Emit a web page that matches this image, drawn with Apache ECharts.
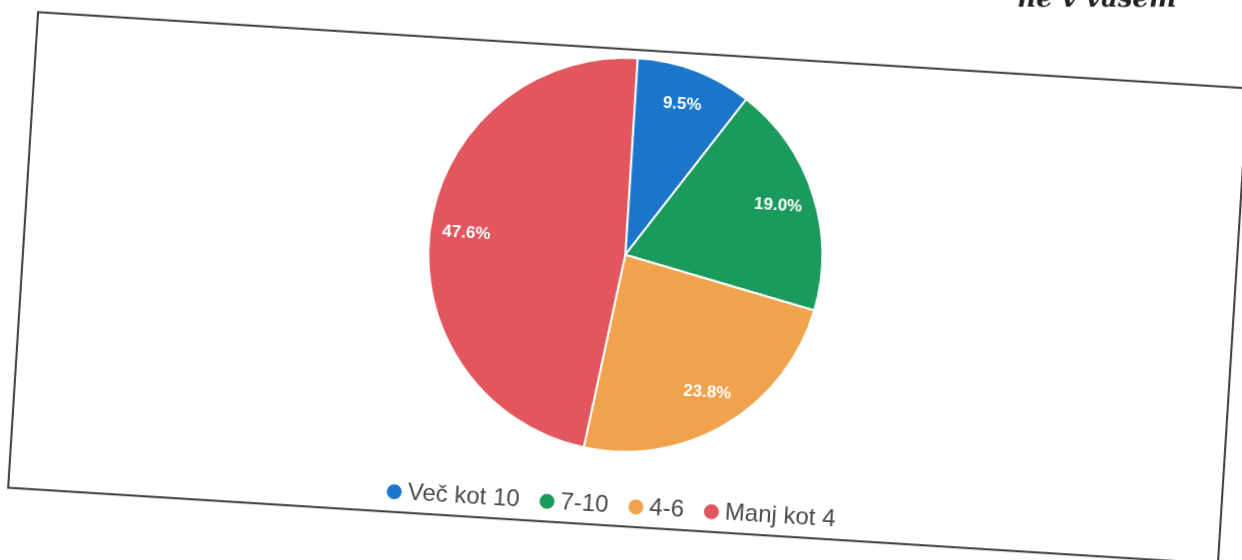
<!DOCTYPE html>
<html>
<head>
<meta charset="utf-8">
<script src="https://cdn.jsdelivr.net/npm/echarts@6/dist/echarts.min.js"></script>
<style>
  html, body { margin: 0; padding: 0; background: #fff; overflow: hidden; width: 1242px; height: 560px; }
  #main {
    position: absolute;
    left: -72.25px;
    top: -61.8px;
    width: 1400px;
    height: 700px;
    transform: rotate(3.6deg);
  }
</style>
</head>
<body>
<div id="main"></div>
<script>
var categories = ['Več kot 10', '7-10', '4-6', 'Manj kot 4'];
var values = [2, 4, 5, 10];
var colors = ['#1b76cb', '#1a9a5c', '#f1a24c', '#e2575e'];

var total = values.reduce(function (a, b) { return a + b; }, 0);

var pieData = categories.map(function (name, i) {
  return { name: name, value: values[i], itemStyle: { color: colors[i] } };
});

var labelData = categories.map(function (name, i) {
  return { name: name, value: values[i] };
});

var chartDom = document.getElementById('main');
var myChart = echarts.init(chartDom, null, { renderer: 'canvas' });

var option = {
  animation: false,
  backgroundColor: 'transparent',
  textStyle: { fontFamily: '"Liberation Sans", Arial, sans-serif' },
  graphic: [
    {
      type: 'rect',
      shape: { x: 93.9, y: 111.65, width: 1212.2, height: 476.7 },
      style: { fill: '#fff', stroke: '#3a3a3a', lineWidth: 2 },
      z: -10
    },
    {
      type: 'text',
      x: 1230.2,
      y: 41,
      rotation: 0.0628,
      style: {
        text: 'ne v vašem',
        font: 'italic bold 26px "DejaVu Serif", serif',
        fill: '#222',
        align: 'right',
        verticalAlign: 'bottom'
      }
    }
  ],
  legend: {
    data: categories,
    left: 465,
    top: 551,
    icon: 'circle',
    itemWidth: 17,
    itemHeight: 17,
    itemGap: 18,
    textStyle: {
      fontSize: 24,
      color: '#4a4a4a',
      fontFamily: '"Liberation Sans", Arial, sans-serif'
    }
  },
  series: [
    {
      name: 'pie',
      type: 'pie',
      center: [695.2, 317],
      radius: [0, 197],
      startAngle: 90,
      clockwise: true,
      itemStyle: { borderColor: '#fff', borderWidth: 2 },
      label: { show: false },
      labelLine: { show: false },
      emphasis: { disabled: true },
      data: pieData
    },
    {
      name: 'labels',
      type: 'pie',
      center: [695.2, 317],
      radius: [118, 197],
      startAngle: 90,
      clockwise: true,
      silent: true,
      legendHoverLink: false,
      itemStyle: { color: 'rgba(0,0,0,0)', borderWidth: 0 },
      label: {
        show: true,
        position: 'inside',
        color: '#fff',
        fontSize: 17,
        fontWeight: 'bold',
        fontFamily: '"Liberation Sans", Arial, sans-serif',
        formatter: function (p) {
          return (p.value / total * 100).toFixed(1) + '%';
        }
      },
      labelLine: { show: false },
      emphasis: { disabled: true },
      data: labelData
    }
  ]
};

option && myChart.setOption(option);
</script>
</body>
</html>
